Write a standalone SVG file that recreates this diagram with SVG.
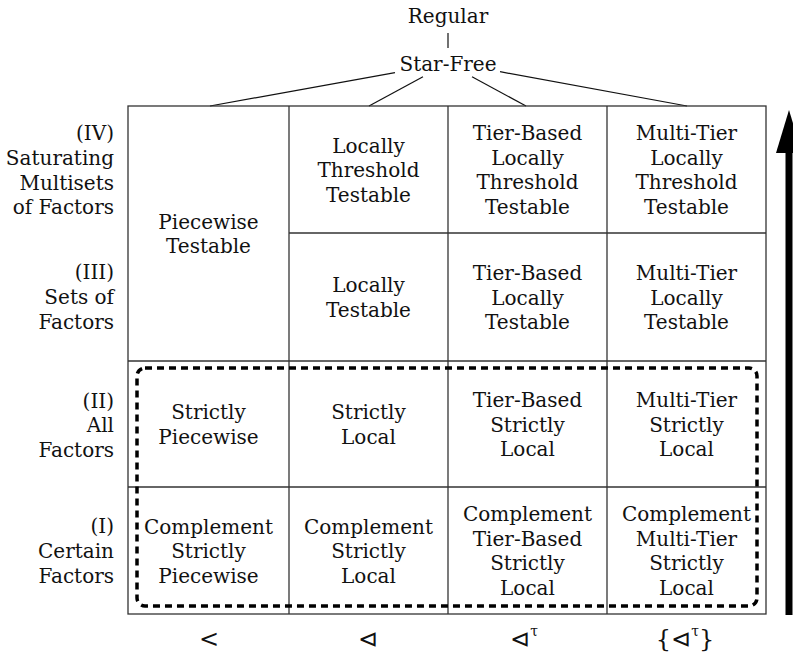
<svg xmlns="http://www.w3.org/2000/svg" width="793" height="654" viewBox="0 0 793 654">
<style>
.t{font-family:"DejaVu Serif","Liberation Serif",serif;font-size:20px;fill:#111;text-anchor:middle}
.r{font-family:"DejaVu Serif","Liberation Serif",serif;font-size:20px;fill:#111;text-anchor:end}
.s{font-family:"DejaVu Serif","Liberation Serif",serif;font-size:24px;fill:#111;text-anchor:middle}
.g{stroke:#333;stroke-width:1.3;fill:none}
.c{stroke:#111;stroke-width:1.2;fill:none}
.sup{font-size:14px}
</style>
<rect width="793" height="654" fill="#fff"/>
<g id="regular"><text class="t" x="448" y="23">Regular</text></g>
<g id="star-free"><text class="t" x="448" y="71">Star-Free</text></g>
<g id="connectors">
<line class="c" x1="448" y1="33" x2="448" y2="48"/>
<line class="c" x1="395" y1="72.7" x2="210" y2="106"/>
<line class="c" x1="423" y1="76.7" x2="369" y2="106"/>
<line class="c" x1="472" y1="76.7" x2="526" y2="106"/>
<line class="c" x1="500" y1="71.7" x2="687" y2="106"/>
</g>
<g id="grid">
<rect class="g" x="128" y="106" width="638" height="508"/>
<line class="g" x1="289" y1="106" x2="289" y2="614"/>
<line class="g" x1="448" y1="106" x2="448" y2="614"/>
<line class="g" x1="607" y1="106" x2="607" y2="614"/>
<line class="g" x1="289" y1="233" x2="766" y2="233"/>
<line class="g" x1="128" y1="361" x2="766" y2="361"/>
<line class="g" x1="128" y1="487" x2="766" y2="487"/>
</g>
<g id="row-labels">
<text class="r" x="114"><tspan x="114" y="140">(IV)</tspan><tspan x="114" y="165">Saturating</tspan><tspan x="114" y="189.5">Multisets</tspan><tspan x="114" y="214">of Factors</tspan></text>
<text class="r"><tspan x="114" y="279">(III)</tspan><tspan x="114" y="304">Sets of</tspan><tspan x="114" y="328.5">Factors</tspan></text>
<text class="r"><tspan x="114" y="407.5">(II)</tspan><tspan x="114" y="432">All</tspan><tspan x="114" y="456.5">Factors</tspan></text>
<text class="r"><tspan x="114" y="533">(I)</tspan><tspan x="114" y="558">Certain</tspan><tspan x="114" y="582.5">Factors</tspan></text>
</g>
<g id="pt"><text class="t"><tspan x="208.5" y="228.75">Piecewise</tspan><tspan x="208.5" y="253.25">Testable</tspan></text></g>
<g id="ltt"><text class="t"><tspan x="368.5" y="152.5">Locally</tspan><tspan x="368.5" y="177">Threshold</tspan><tspan x="368.5" y="201.5">Testable</tspan></text></g>
<g id="tbltt"><text class="t"><tspan x="527.5" y="140.25">Tier-Based</tspan><tspan x="527.5" y="164.75">Locally</tspan><tspan x="527.5" y="189.25">Threshold</tspan><tspan x="527.5" y="213.75">Testable</tspan></text></g>
<g id="mtltt"><text class="t"><tspan x="686.5" y="140.25">Multi-Tier</tspan><tspan x="686.5" y="164.75">Locally</tspan><tspan x="686.5" y="189.25">Threshold</tspan><tspan x="686.5" y="213.75">Testable</tspan></text></g>
<g id="lt"><text class="t"><tspan x="368.5" y="292.25">Locally</tspan><tspan x="368.5" y="316.75">Testable</tspan></text></g>
<g id="tblt"><text class="t"><tspan x="527.5" y="280">Tier-Based</tspan><tspan x="527.5" y="304.5">Locally</tspan><tspan x="527.5" y="329">Testable</tspan></text></g>
<g id="mtlt"><text class="t"><tspan x="686.5" y="280">Multi-Tier</tspan><tspan x="686.5" y="304.5">Locally</tspan><tspan x="686.5" y="329">Testable</tspan></text></g>
<g id="sp"><text class="t"><tspan x="208.5" y="419.25">Strictly</tspan><tspan x="208.5" y="443.75">Piecewise</tspan></text></g>
<g id="sl"><text class="t"><tspan x="368.5" y="419.25">Strictly</tspan><tspan x="368.5" y="443.75">Local</tspan></text></g>
<g id="tsl"><text class="t"><tspan x="527.5" y="407">Tier-Based</tspan><tspan x="527.5" y="431.5">Strictly</tspan><tspan x="527.5" y="456">Local</tspan></text></g>
<g id="mtsl"><text class="t"><tspan x="686.5" y="407">Multi-Tier</tspan><tspan x="686.5" y="431.5">Strictly</tspan><tspan x="686.5" y="456">Local</tspan></text></g>
<g id="csp"><text class="t"><tspan x="208.5" y="533.5">Complement</tspan><tspan x="208.5" y="558">Strictly</tspan><tspan x="208.5" y="582.5">Piecewise</tspan></text></g>
<g id="csl"><text class="t"><tspan x="368.5" y="533.5">Complement</tspan><tspan x="368.5" y="558">Strictly</tspan><tspan x="368.5" y="582.5">Local</tspan></text></g>
<g id="ctsl"><text class="t"><tspan x="527.5" y="521.25">Complement</tspan><tspan x="527.5" y="545.75">Tier-Based</tspan><tspan x="527.5" y="570.25">Strictly</tspan><tspan x="527.5" y="594.75">Local</tspan></text></g>
<g id="cmtsl"><text class="t"><tspan x="686.5" y="521.25">Complement</tspan><tspan x="686.5" y="545.75">Multi-Tier</tspan><tspan x="686.5" y="570.25">Strictly</tspan><tspan x="686.5" y="594.75">Local</tspan></text></g>
<g id="dashed-box"><rect x="137" y="368" width="620" height="238" rx="8" fill="none" stroke="#000" stroke-width="3.5" stroke-dasharray="7 5"/></g>
<g id="arrow">
<line x1="789" y1="615" x2="789" y2="150" stroke="#000" stroke-width="7"/>
<polygon points="789,110 776,153 802,153" fill="#000"/>
</g>
<g id="col-labels">
<text class="s" x="209" y="647">&lt;</text>
<text class="s" x="368" y="647">⊲</text>
<text class="s" x="524" y="647">⊲<tspan class="sup" dy="-11">τ</tspan></text>
<text class="s" x="685" y="647">{⊲<tspan class="sup" dy="-11">τ</tspan><tspan dy="11">}</tspan></text>
</g>
</svg>
